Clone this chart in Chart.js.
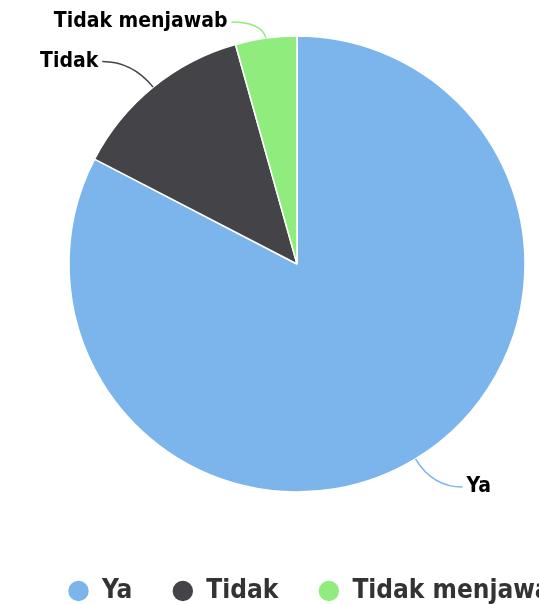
<!DOCTYPE html>
<html>
<head>
<meta charset="utf-8">
<script src="https://cdn.jsdelivr.net/npm/chart.js@4"></script>
<style>
  html, body { margin: 0; padding: 0; overflow: hidden; background: #fff; }
  #wrap { position: absolute; left: 0; top: -10px; }
</style>
</head>
<body>
<div id="wrap"><canvas id="pie" width="700" height="624"></canvas></div>
<script>
const categories = ["Ya", "Tidak", "Tidak menjawab"];
const responses = [19, 3, 1];
const sliceColors = ["#7cb5ec", "#434348", "#90ed7d"];

const fontFamily = '"DejaVu Sans Condensed", "DejaVu Sans", sans-serif';
const labelFont = `bold 21px ${fontFamily}`;
const labelDistance = 33;
const labelArm = 30;

const pieCanvas = document.querySelector("#pie");

// legend is wider than the pie box in the original, so narrow the pie area back
const pieArea = {
  id: "pieArea",
  afterLayout(chart) {
    const area = chart.chartArea;
    area.right = area.left + 538;
    area.width = 538;
  },
};

// labels outside the slices with a curved connector, like the original
const outsideLabels = {
  id: "outsideLabels",
  afterDatasetsDraw(chart) {
    const { ctx } = chart;
    const arcs = chart.getDatasetMeta(0).data;
    ctx.save();
    ctx.font = labelFont;
    ctx.textBaseline = "middle";
    arcs.forEach((arc, i) => {
      const { x, y, startAngle, endAngle, outerRadius } = arc.getProps(
        ["x", "y", "startAngle", "endAngle", "outerRadius"],
        true
      );
      const mid = (startAngle + endAngle) / 2;
      const cos = Math.cos(mid);
      const sin = Math.sin(mid);
      const right = cos >= 0;
      const edgeX = x + cos * outerRadius;
      const edgeY = y + sin * outerRadius;
      const elbowX = x + cos * (outerRadius + labelDistance);
      const elbowY = Math.max(y + sin * (outerRadius + labelDistance), 32);
      const endX = elbowX + (right ? labelArm : -labelArm);

      ctx.beginPath();
      ctx.moveTo(edgeX, edgeY);
      ctx.quadraticCurveTo(elbowX, elbowY, endX, elbowY);
      ctx.strokeStyle = sliceColors[i];
      ctx.lineWidth = 1.5;
      ctx.stroke();

      ctx.fillStyle = "#000000";
      ctx.textAlign = right ? "left" : "right";
      ctx.fillText(categories[i], endX + (right ? 4 : -4), elbowY);
    });
    ctx.restore();
  },
};

new Chart(pieCanvas, {
  type: "pie",
  data: {
    labels: categories,
    datasets: [
      {
        data: responses,
        backgroundColor: sliceColors,
        borderColor: "#ffffff",
        borderWidth: 1.5,
        radius: 228,
      },
    ],
  },
  options: {
    responsive: false,
    animation: false,
    events: [],
    layout: { padding: { left: 28, right: 0, top: 0, bottom: 0 } },
    plugins: {
      tooltip: { enabled: false },
      legend: {
        position: "bottom",
        align: "start",
        labels: {
          usePointStyle: true,
          pointStyle: "circle",
          boxWidth: 21,
          boxHeight: 15.5,
          padding: 40,
          color: "#333333",
          font: { family: fontFamily, size: 26, weight: "bold" },
        },
      },
    },
  },
  plugins: [pieArea, outsideLabels],
});
</script>
</body>
</html>
